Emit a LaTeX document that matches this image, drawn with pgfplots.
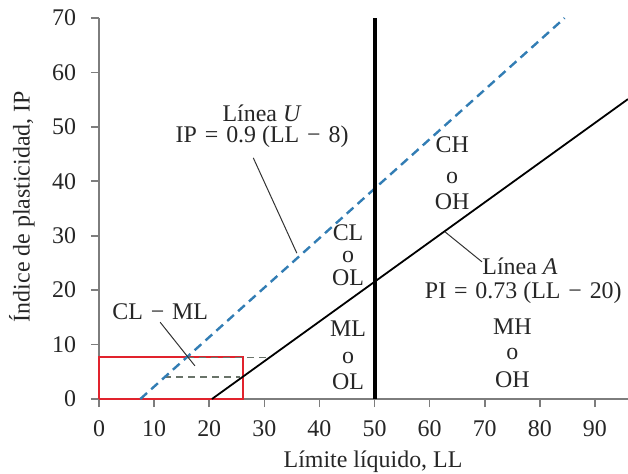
\documentclass[border=0pt]{standalone}
\usepackage{pgfplots}
\pgfplotsset{compat=1.18}
\usepackage{fontspec}
\setmainfont{Liberation Serif}
\definecolor{uline}{RGB}{50,125,180}
\definecolor{redbox}{RGB}{225,35,45}
\definecolor{axgray}{RGB}{125,125,125}
\definecolor{dgray}{RGB}{105,115,105}
\newcommand{\fs}{\fontsize{12}{14}\selectfont}
\newcommand{\wsp}{\hspace{0.33em}}
\begin{document}
\begin{tikzpicture}
\useasboundingbox (-49.5bp,-37.5bp) rectangle (264.5bp,199.5bp);
\begin{axis}[
  scale only axis,
  width=264.5bp, height=190.5bp,
  xmin=0, xmax=96, ymin=0, ymax=70,
  axis x line=bottom, axis y line=left,
  axis line style={-, axgray, line width=1.1bp},
  xtick={0,10,...,90}, ytick={0,10,...,70},
  tick align=outside, major tick length=4bp,
  tick style={axgray, line width=0.8bp},
  /pgf/number format/assume math mode=true,
  ticklabel style={font=\fs, text=black!85},
  xticklabel style={yshift=-3.5bp},
  yticklabel style={xshift=-4bp},
  xlabel={Límite líquido, LL},
  ylabel={Índice de plasticidad, IP},
  every axis x label/.style={at={(axis description cs:0.518,0)}, yshift=-31.5bp, anchor=center, font=\fs, text=black!85},
  every axis y label/.style={at={(axis description cs:0,0.505)}, xshift=-38.5bp, rotate=90, anchor=center, font=\fs, text=black!85},
  clip=false,
]
% red box
\addplot[redbox, line width=1.1bp] coordinates {(0,0) (26.1,0) (26.1,7.7) (0,7.7) (0,0)};
% gray dashed CL-ML zone
\addplot[dgray, line width=0.8bp, dash pattern=on 3.5bp off 2.5bp] coordinates {(11.8,4) (25.5,4)};
\addplot[dgray, line width=0.8bp, dash pattern=on 3.5bp off 2.5bp] coordinates {(16.0,7.6) (30.4,7.6)};
% U line
\addplot[uline, line width=1.2bp, dash pattern=on 4.5bp off 2.8bp] coordinates {(7.5,0) (84.5,70)};
% A line
\addplot[black, line width=0.9bp] coordinates {(20.5,0) (96,55.1)};
% LL=50
\addplot[black, line width=2bp] coordinates {(50,0) (50,70)};
% leader lines
\addplot[black!80, line width=0.5bp] coordinates {(28.0,44.3) (35.9,26.8)};
\addplot[black!80, line width=0.5bp] coordinates {(69.5,25.2) (62.8,30.7)};
\addplot[black!80, line width=0.5bp] coordinates {(11.1,14.1) (17.4,6.1)};
% texts
\tikzset{lab/.style={font=\fs, text=black!85, inner sep=0pt, anchor=center}}
\node[lab] at (axis cs:29.6,52.5) {Línea \textit{U}};
\node[lab] at (axis cs:29.6,48.1) {IP\wsp=\wsp0.9 (LL\wsp−\wsp8)};
\node[lab] at (axis cs:76.4,24.4) {Línea \textit{A}};
\node[lab] at (axis cs:77.0,19.5) {PI\wsp=\wsp0.73 (LL\wsp−\wsp20)};
\node[lab] at (axis cs:11.1,16.0) {CL\wsp−\wsp ML};
\node[lab] at (axis cs:64.1,46.7) {CH};
\node[lab] at (axis cs:64.1,40.6) {o};
\node[lab] at (axis cs:64.1,36.2) {OH};
\node[lab] at (axis cs:45.2,30.5) {CL};
\node[lab] at (axis cs:45.2,26.1) {o};
\node[lab] at (axis cs:45.2,22.2) {OL};
\node[lab] at (axis cs:45.2,13.0) {ML};
\node[lab] at (axis cs:45.2,7.5) {o};
\node[lab] at (axis cs:45.2,3.1) {OL};
\node[lab] at (axis cs:75.0,13.2) {MH};
\node[lab] at (axis cs:75.0,8.3) {o};
\node[lab] at (axis cs:75.0,3.5) {OH};
\end{axis}
\end{tikzpicture}
\end{document}
